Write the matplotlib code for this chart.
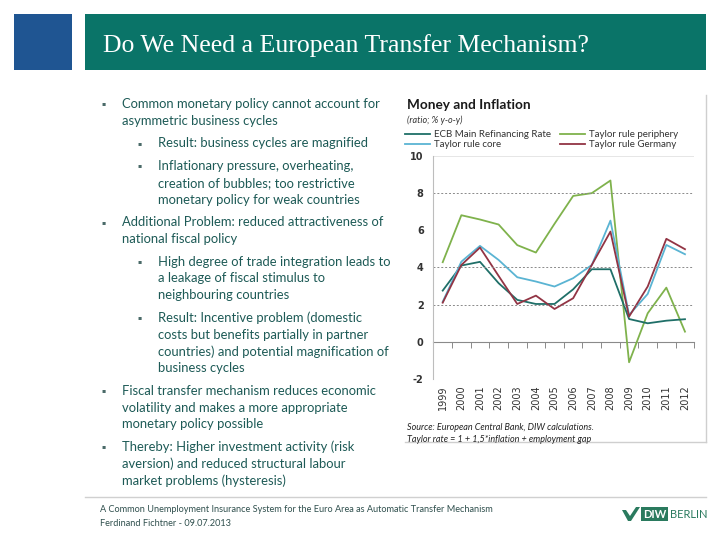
import matplotlib
matplotlib.use("Agg")
import matplotlib.pyplot as plt
from matplotlib.patches import Rectangle, Polygon
from matplotlib.lines import Line2D

# --- data --------------------------------------------------------------------
years = [str(y) for y in range(1999, 2013)]
ecb_rate = [2.75, 4.10, 4.30, 3.15, 2.25, 2.03, 2.03, 2.82, 3.90, 3.90, 1.22, 0.99, 1.13, 1.21]
taylor_core = [2.15, 4.31, 5.16, 4.40, 3.47, 3.24, 2.97, 3.42, 4.13, 6.52, 1.44, 2.57, 5.21, 4.71]
taylor_periphery = [4.28, 6.81, 6.58, 6.31, 5.20, 4.80, 6.35, 7.85, 8.00, 8.68, -1.11, 1.53, 2.91, 0.54]
taylor_germany = [2.10, 4.13, 5.07, 3.54, 2.03, 2.48, 1.76, 2.34, 4.13, 5.93, 1.35, 2.97, 5.54, 4.98]
y_ticks = [-2, 0, 2, 4, 6, 8, 10]
grid_levels = [2, 4, 8]

slide_title = "Do We Need a European Transfer Mechanism?"
bullets = [
    (1, ["Common monetary policy cannot account for", "asymmetric business cycles"]),
    (2, ["Result: business cycles are magnified"]),
    (2, ["Inflationary pressure, overheating,", "creation of bubbles; too restrictive",
         "monetary policy for weak countries"]),
    (1, ["Additional Problem: reduced attractiveness of", "national fiscal policy"]),
    (2, ["High degree of trade integration leads to", "a leakage of fiscal stimulus to",
         "neighbouring countries"]),
    (2, ["Result: Incentive problem (domestic", "costs but benefits partially in partner",
         "countries) and potential magnification of", "business cycles"]),
    (1, ["Fiscal transfer mechanism reduces economic", "volatility and makes a more appropriate",
         "monetary policy possible"]),
    (1, ["Thereby: Higher investment activity (risk", "aversion) and reduced structural labour",
         "market problems (hysteresis)"]),
]

TEAL = "#0a7468"
BLUE = "#1f5592"
TEXT = "#1d5a56"
W, H = 720, 540


def px(x, y):
    """pixel position (top-left origin) -> figure fraction"""
    return x / W, 1 - y / H


fig = plt.figure(figsize=(7.2, 5.4), dpi=100)
fig.patch.set_facecolor("white")

# header
fig.patches.append(Rectangle(px(14, 70), 58 / W, 56 / H, transform=fig.transFigure,
                             facecolor=BLUE, edgecolor="none"))
fig.patches.append(Rectangle(px(85, 70), 621 / W, 56 / H, transform=fig.transFigure,
                             facecolor=TEAL, edgecolor="none"))
fig.text(*px(103, 46), slide_title, color="white", fontsize=18.5, family="Liberation Serif",
         va="center", ha="left")

# bullets
y = 104
for level, lines in bullets:
    bx, tx = (101, 122) if level == 1 else (137, 158)
    fig.text(*px(bx, y), "▪", color="#4a6a68", fontsize=4.5, va="center", family="DejaVu Sans")
    for i, line in enumerate(lines):
        fig.text(*px(tx, y), line, color=TEXT, fontsize=9.4, va="center", family="Lato")
        y += 16.8
    y += 5.8

# chart frame (right + bottom edges)
fig.lines.append(Line2D([706 / W, 706 / W], [1 - 95 / H, 1 - 442 / H],
                        transform=fig.transFigure, color="#cfcfcf", lw=1))
fig.lines.append(Line2D([405 / W, 706 / W], [1 - 442 / H, 1 - 442 / H],
                        transform=fig.transFigure, color="#cfcfcf", lw=1))

fig.text(*px(407, 105), "Money and Inflation", fontsize=9.8, weight="bold",
         family="Lato", color="#1a1a1a", va="center")
fig.text(*px(407, 120), "(ratio; % y-o-y)", fontsize=6.5, style="italic",
         family="Lato", color="#333333", va="center")

# plot area
ax = fig.add_axes([433.4 / W, 1 - 378.8 / H, (694.3 - 433.4) / W, (378.8 - 156) / H])
x = range(len(years))
series = [
    (ecb_rate, "ECB Main Refinancing Rate", "#1f6f68"),
    (taylor_core, "Taylor rule core", "#5ab4d3"),
    (taylor_periphery, "Taylor rule periphery", "#7fb24c"),
    (taylor_germany, "Taylor rule Germany", "#923444"),
]
handles = {}
for vals, label, color in [series[2], series[0], series[1], series[3]]:
    (h,) = ax.plot(x, vals, color=color, lw=1.3, label=label)
    handles[label] = h

ax.set_xlim(-0.5, len(years) - 0.5)
ax.set_ylim(-2, 10)
ax.set_yticks(y_ticks)
ax.set_yticklabels([str(t) for t in y_ticks], fontsize=7, weight="bold", color="#333333")
for g in grid_levels:
    ax.axhline(g, color="#8a8a8a", lw=0.7, ls=(0, (2, 2)))
ax.axhline(10, color="#e6e6e6", lw=0.7)
ax.set_xticks(list(x))
ax.set_xticklabels(years, rotation=90, fontsize=7, color="#333333")
ax.tick_params(axis="x", length=0, pad=5)
ax.tick_params(axis="y", length=0, pad=7)
for side in ["top", "right", "bottom"]:
    ax.spines[side].set_visible(False)
ax.spines["left"].set_color("#bdbdbd")
ax.spines["left"].set_linewidth(0.8)
ax.set_facecolor("none")

# zero line with Excel-style tick marks between categories
zero_axis = ax.secondary_xaxis((0 - ax.get_ylim()[0]) / (ax.get_ylim()[1] - ax.get_ylim()[0]))
zero_axis.set_xticks([i - 0.5 for i in range(len(years) + 1)])
zero_axis.set_xticklabels([])
zero_axis.tick_params(length=4, color="#8a8a8a", width=0.7)
zero_axis.spines["bottom"].set_color("#8a8a8a")
zero_axis.spines["bottom"].set_linewidth(0.8)

# legend (2x2)
leg = fig.legend(
    [handles["ECB Main Refinancing Rate"], handles["Taylor rule core"],
     handles["Taylor rule periphery"], handles["Taylor rule Germany"]],
    ["ECB Main Refinancing Rate", "Taylor rule core", "Taylor rule periphery", "Taylor rule Germany"],
    ncol=2, loc="upper left", bbox_to_anchor=px(405, 130), frameon=False,
    prop={"family": "Lato", "size": 7}, handlelength=2.6, handletextpad=0.4,
    columnspacing=0.9, labelspacing=0.12, borderaxespad=0, borderpad=0,
)
for t in leg.get_texts():
    t.set_color("#333333")

fig.text(*px(407, 427), "Source: European Central Bank, DIW calculations.", fontsize=6.5,
         style="italic", family="Lato", color="#222222", va="center")
fig.text(*px(407, 440), "Taylor rate = 1 + 1,5*inflation + employment gap", fontsize=6.5,
         style="italic", family="Lato", color="#222222", va="center")

# footer
fig.lines.append(Line2D([85 / W, 706 / W], [1 - 497 / H, 1 - 497 / H],
                        transform=fig.transFigure, color="#d0d0d0", lw=1))
fig.text(*px(100, 510), "A Common Unemployment Insurance System for the Euro Area as Automatic Transfer Mechanism",
         fontsize=6.6, family="Lato", color="#2f4f4d", va="center")
fig.text(*px(100, 524), "Ferdinand Fichtner - 09.07.2013", fontsize=6.6, family="Lato",
         color="#2f4f4d", va="center")

LOGO = "#2a7a5e"
fig.patches.append(Polygon([px(622, 510), px(626, 510), px(630, 516), px(636, 507), px(640, 507),
                            px(631, 521), px(628, 521)], closed=True,
                           transform=fig.transFigure, facecolor=LOGO, edgecolor="none"))
fig.patches.append(Rectangle(px(641, 521), 27 / W, 14 / H, transform=fig.transFigure,
                             facecolor=LOGO, edgecolor="none"))
fig.text(*px(654.5, 514), "DIW", fontsize=8, weight="bold", family="Lato", color="white",
         va="center", ha="center")
fig.text(*px(670, 514), "BERLIN", fontsize=8, family="Lato", color=LOGO, va="center")

fig.savefig("out.png", dpi=100)
